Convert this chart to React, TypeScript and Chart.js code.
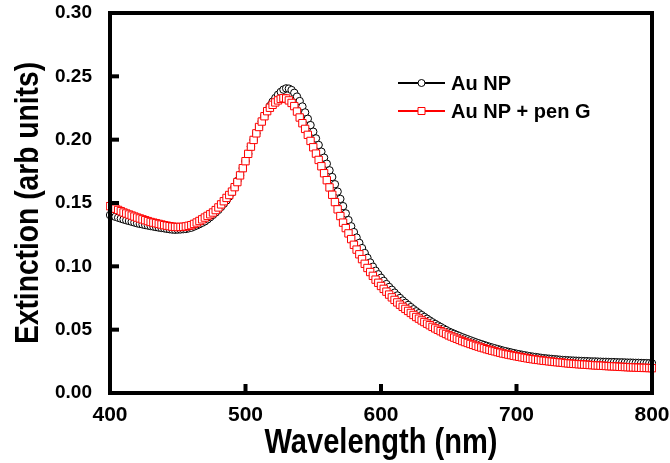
import React, { useEffect, useRef } from "react";
import { Chart, registerables } from "chart.js";

Chart.register(...registerables);

const WAVELENGTHS = [
  400, 402, 404, 406, 408, 410, 412, 414, 416, 418, 420, 422, 424, 426, 428, 430, 432, 434, 436, 438,
  440, 442, 444, 446, 448, 450, 452, 454, 456, 458, 460, 462, 464, 466, 468, 470, 472, 474, 476, 478,
  480, 482, 484, 486, 488, 490, 492, 494, 496, 498, 500, 502, 504, 506, 508, 510, 512, 514, 516, 518,
  520, 522, 524, 526, 528, 530, 532, 534, 536, 538, 540, 542, 544, 546, 548, 550, 552, 554, 556, 558,
  560, 562, 564, 566, 568, 570, 572, 574, 576, 578, 580, 582, 584, 586, 588, 590, 592, 594, 596, 598,
  600, 602, 604, 606, 608, 610, 612, 614, 616, 618, 620, 622, 624, 626, 628, 630, 632, 634, 636, 638,
  640, 642, 644, 646, 648, 650, 652, 654, 656, 658, 660, 662, 664, 666, 668, 670, 672, 674, 676, 678,
  680, 682, 684, 686, 688, 690, 692, 694, 696, 698, 700, 702, 704, 706, 708, 710, 712, 714, 716, 718,
  720, 722, 724, 726, 728, 730, 732, 734, 736, 738, 740, 742, 744, 746, 748, 750, 752, 754, 756, 758,
  760, 762, 764, 766, 768, 770, 772, 774, 776, 778, 780, 782, 784, 786, 788, 790, 792, 794, 796, 798,
  800,
];

const AU_NP = [
  0.1405, 0.1398, 0.1391, 0.1384, 0.1377, 0.1370, 0.1364, 0.1358, 0.1352, 0.1346,
  0.1340, 0.1335, 0.1331, 0.1326, 0.1322, 0.1318, 0.1314, 0.1310, 0.1306, 0.1303,
  0.1300, 0.1296, 0.1293, 0.1290, 0.1289, 0.1290, 0.1291, 0.1293, 0.1295, 0.1300,
  0.1305, 0.1314, 0.1323, 0.1333, 0.1344, 0.1355, 0.1371, 0.1388, 0.1406, 0.1425,
  0.1445, 0.1469, 0.1494, 0.1520, 0.1551, 0.1585, 0.1629, 0.1674, 0.1720, 0.1775,
  0.1830, 0.1888, 0.1945, 0.1998, 0.2050, 0.2100, 0.2145, 0.2188, 0.2230, 0.2266,
  0.2300, 0.2329, 0.2355, 0.2377, 0.2395, 0.2405, 0.2403, 0.2392, 0.2370, 0.2340,
  0.2305, 0.2262, 0.2215, 0.2165, 0.2115, 0.2063, 0.2010, 0.1958, 0.1905, 0.1858,
  0.1810, 0.1758, 0.1705, 0.1648, 0.1590, 0.1532, 0.1475, 0.1418, 0.1365, 0.1316,
  0.1270, 0.1227, 0.1185, 0.1144, 0.1105, 0.1067, 0.1030, 0.0997, 0.0965, 0.0937,
  0.0910, 0.0885, 0.0860, 0.0837, 0.0815, 0.0792, 0.0770, 0.0750, 0.0730, 0.0712,
  0.0695, 0.0678, 0.0661, 0.0645, 0.0630, 0.0615, 0.0600, 0.0586, 0.0572, 0.0558,
  0.0545, 0.0533, 0.0521, 0.0509, 0.0497, 0.0485, 0.0476, 0.0467, 0.0458, 0.0449,
  0.0440, 0.0432, 0.0424, 0.0416, 0.0408, 0.0400, 0.0393, 0.0386, 0.0379, 0.0372,
  0.0365, 0.0359, 0.0353, 0.0347, 0.0341, 0.0335, 0.0330, 0.0325, 0.0320, 0.0315,
  0.0310, 0.0306, 0.0302, 0.0298, 0.0294, 0.0290, 0.0287, 0.0284, 0.0281, 0.0278,
  0.0275, 0.0273, 0.0271, 0.0269, 0.0267, 0.0265, 0.0263, 0.0261, 0.0260, 0.0258,
  0.0257, 0.0256, 0.0255, 0.0254, 0.0253, 0.0252, 0.0251, 0.0250, 0.0249, 0.0249,
  0.0248, 0.0247, 0.0246, 0.0246, 0.0245, 0.0244, 0.0244, 0.0243, 0.0242, 0.0242,
  0.0241, 0.0240, 0.0240, 0.0239, 0.0238, 0.0238, 0.0237, 0.0236, 0.0236, 0.0235,
  0.0234,
];

const AU_NP_PEN_G = [
  0.1475, 0.1465, 0.1455, 0.1445, 0.1435, 0.1425, 0.1417, 0.1409, 0.1401, 0.1393,
  0.1385, 0.1378, 0.1371, 0.1364, 0.1357, 0.1350, 0.1345, 0.1340, 0.1335, 0.1330,
  0.1325, 0.1321, 0.1317, 0.1313, 0.1311, 0.1310, 0.1311, 0.1312, 0.1315, 0.1320,
  0.1325, 0.1335, 0.1346, 0.1358, 0.1371, 0.1385, 0.1398, 0.1411, 0.1425, 0.1444,
  0.1465, 0.1489, 0.1514, 0.1540, 0.1563, 0.1590, 0.1625, 0.1665, 0.1718, 0.1775,
  0.1830, 0.1888, 0.1945, 0.1998, 0.2050, 0.2100, 0.2143, 0.2185, 0.2225, 0.2252,
  0.2275, 0.2294, 0.2310, 0.2322, 0.2328, 0.2325, 0.2310, 0.2290, 0.2265, 0.2222,
  0.2175, 0.2130, 0.2085, 0.2038, 0.1990, 0.1940, 0.1890, 0.1840, 0.1790, 0.1735,
  0.1680, 0.1623, 0.1565, 0.1507, 0.1450, 0.1397, 0.1345, 0.1302, 0.1260, 0.1215,
  0.1170, 0.1132, 0.1095, 0.1057, 0.1020, 0.0987, 0.0955, 0.0925, 0.0895, 0.0870,
  0.0845, 0.0822, 0.0800, 0.0777, 0.0755, 0.0735, 0.0715, 0.0697, 0.0680, 0.0664,
  0.0648, 0.0632, 0.0616, 0.0600, 0.0587, 0.0573, 0.0560, 0.0547, 0.0535, 0.0522,
  0.0510, 0.0499, 0.0488, 0.0477, 0.0466, 0.0455, 0.0446, 0.0437, 0.0428, 0.0419,
  0.0410, 0.0402, 0.0395, 0.0387, 0.0380, 0.0372, 0.0366, 0.0359, 0.0353, 0.0346,
  0.0340, 0.0334, 0.0329, 0.0323, 0.0318, 0.0312, 0.0308, 0.0303, 0.0299, 0.0294,
  0.0290, 0.0286, 0.0282, 0.0278, 0.0274, 0.0270, 0.0267, 0.0264, 0.0261, 0.0258,
  0.0255, 0.0253, 0.0250, 0.0248, 0.0245, 0.0243, 0.0241, 0.0239, 0.0236, 0.0234,
  0.0232, 0.0230, 0.0229, 0.0227, 0.0226, 0.0224, 0.0223, 0.0221, 0.0220, 0.0218,
  0.0217, 0.0216, 0.0215, 0.0213, 0.0212, 0.0211, 0.0210, 0.0209, 0.0207, 0.0206,
  0.0205, 0.0204, 0.0203, 0.0202, 0.0201, 0.0200, 0.0199, 0.0198, 0.0198, 0.0197,
  0.0196,
];

const SERIES_LABELS = ["Au NP", "Au NP + pen G"];
const SERIES_COLORS = ["#000000", "#ff0000"];
const X_TICKS = [400, 500, 600, 700, 800];
const Y_TICKS = [0, 0.05, 0.1, 0.15, 0.2, 0.25, 0.3];
const X_TITLE = "Wavelength (nm)";
const Y_TITLE = "Extinction (arb units)";

const SANS = '"Liberation Sans", Arial, sans-serif';
const CONDENSE = 0.83;

const framePlugin = {
  id: "frameAndLegend",
  afterDraw(chart: any) {
    const ctx: CanvasRenderingContext2D = chart.ctx;
    const area = chart.chartArea;
    const left = area.left;
    const right = area.right;
    const top = area.top;
    const bottom = area.bottom;
    const xs = chart.scales.x;
    const ys = chart.scales.y;
    ctx.save();
    ctx.fillStyle = "#000000";
    const lw = 4;
    // frame
    ctx.fillRect(left - lw / 2, top - lw / 2, right - left + lw, lw);
    ctx.fillRect(left - lw / 2, bottom - lw / 2, right - left + lw, lw);
    ctx.fillRect(left - lw / 2, top - lw / 2, lw, bottom - top + lw);
    ctx.fillRect(right - lw / 2, top - lw / 2, lw, bottom - top + lw);

    // inward major ticks, positioned through the scales
    const tickW = 4;
    const tickL = 9;
    X_TICKS.forEach((v) => {
      const px = Number(xs.getPixelForValue(v));
      const cx = isFinite(px) ? px : left + ((v - xs.min) / (xs.max - xs.min)) * (right - left);
      if (cx - left < 4 || right - cx < 4) return;
      ctx.fillRect(cx - tickW / 2, bottom - tickL, tickW, tickL);
    });
    Y_TICKS.forEach((v) => {
      const py = Number(ys.getPixelForValue(v));
      const cy = isFinite(py) ? py : bottom - ((v - ys.min) / (ys.max - ys.min)) * (bottom - top);
      if (cy - top < 4 || bottom - cy < 4) return;
      ctx.fillRect(left, cy - tickW / 2, tickL, tickW);
    });

    // y title (bold, narrow), centred on the y axis
    ctx.save();
    ctx.translate(37.5, (top + bottom) / 2);
    ctx.rotate(-Math.PI / 2);
    ctx.scale(CONDENSE, 1);
    ctx.font = `bold 34px ${SANS}`;
    ctx.textAlign = "center";
    ctx.textBaseline = "alphabetic";
    ctx.fillStyle = "#000000";
    ctx.fillText(Y_TITLE, 0, 0);
    ctx.restore();

    // x title (bold, narrow), centred on the x axis
    ctx.save();
    ctx.translate((left + right) / 2, 453);
    ctx.scale(CONDENSE, 1);
    ctx.font = `bold 35px ${SANS}`;
    ctx.textAlign = "center";
    ctx.textBaseline = "alphabetic";
    ctx.fillStyle = "#000000";
    ctx.fillText(X_TITLE, 0, 0);
    ctx.restore();

    // legend
    const lx = left + 288;
    const ly0 = top + 70;
    const rowGap = 28;
    chart.data.datasets.forEach((ds: any, i: number) => {
      const y = ly0 + i * rowGap;
      ctx.strokeStyle = ds.borderColor;
      ctx.lineWidth = 2;
      ctx.beginPath();
      ctx.moveTo(lx, y);
      ctx.lineTo(lx + 47, y);
      ctx.stroke();
      ctx.fillStyle = "#ffffff";
      ctx.lineWidth = 1;
      ctx.beginPath();
      if (ds.pointStyle === "rect") {
        ctx.rect(lx + 23.5 - 3.5, y - 3.5, 7, 7);
      } else {
        ctx.arc(lx + 23.5, y, 3.5, 0, Math.PI * 2);
      }
      ctx.fill();
      ctx.stroke();
      ctx.fillStyle = "#000000";
      ctx.font = `bold 20px ${SANS}`;
      ctx.textBaseline = "middle";
      ctx.textAlign = "left";
      ctx.fillText(ds.label, lx + 53, y + 1);
    });
    ctx.restore();
  },
};

export default function App() {
  const ref = useRef<HTMLCanvasElement | null>(null);

  useEffect(() => {
    document.body.style.margin = "0";
    const canvas = ref.current;
    if (!canvas) return;
    const chart = new Chart(canvas, {
      type: "line",
      data: {
        datasets: [
          {
            label: SERIES_LABELS[0],
            data: WAVELENGTHS.map((x, i) => ({ x, y: AU_NP[i] })),
            borderColor: SERIES_COLORS[0],
            backgroundColor: "#ffffff",
            fill: false,
            borderWidth: 1,
            pointStyle: "circle",
            pointRadius: 3.7,
            pointBorderWidth: 1,
            pointBackgroundColor: "#ffffff",
            pointBorderColor: SERIES_COLORS[0],
            order: 1,
            clip: 4,
          },
          {
            label: SERIES_LABELS[1],
            data: WAVELENGTHS.map((x, i) => ({ x, y: AU_NP_PEN_G[i] })),
            borderColor: SERIES_COLORS[1],
            backgroundColor: "#ffffff",
            fill: false,
            borderWidth: 1,
            pointStyle: "rect",
            pointRadius: 5.2,
            pointBorderWidth: 1,
            pointBackgroundColor: "#ffffff",
            pointBorderColor: SERIES_COLORS[1],
            order: 0,
            clip: 4,
          },
        ] as any,
      },
      options: {
        animation: false,
        responsive: false,
        devicePixelRatio: 1,
        layout: { padding: { top: 13, right: 18, left: 0, bottom: 0 } },
        plugins: {
          legend: { display: false },
          tooltip: { enabled: false },
        },
        scales: {
          x: {
            type: "linear",
            min: 400,
            max: 800,
            afterBuildTicks: (scale: any) => {
              scale.ticks = X_TICKS.map((value) => ({ value }));
            },
            afterFit: (scale: any) => {
              scale.height = 70;
              scale.paddingLeft = 0;
              scale.paddingRight = 0;
            },
            grid: { display: false },
            border: { display: false },
            ticks: {
              color: "#000",
              padding: 2,
              maxRotation: 0,
              font: { family: SANS, size: 21, weight: "bold" },
              callback: (v: any) => String(v),
            },
            title: { display: false, text: X_TITLE },
          },
          y: {
            type: "linear",
            min: 0,
            max: 0.3,
            afterBuildTicks: (scale: any) => {
              scale.ticks = Y_TICKS.map((value) => ({ value }));
            },
            afterFit: (scale: any) => {
              scale.width = 110;
              scale.paddingTop = 0;
              scale.paddingBottom = 0;
            },
            grid: { display: false },
            border: { display: false },
            ticks: {
              color: "#000",
              padding: 10,
              font: { family: SANS, size: 19, weight: "bold" },
              callback: (v: any) => Number(v).toFixed(2),
            },
            title: { display: false, text: Y_TITLE },
          },
        },
      } as any,
      plugins: [framePlugin],
    });
    return () => chart.destroy();
  }, []);

  return (
    <div style={{ width: 670, height: 463, background: "#fff" }}>
      <canvas ref={ref} width={670} height={463} style={{ display: "block" }} />
    </div>
  );
}
